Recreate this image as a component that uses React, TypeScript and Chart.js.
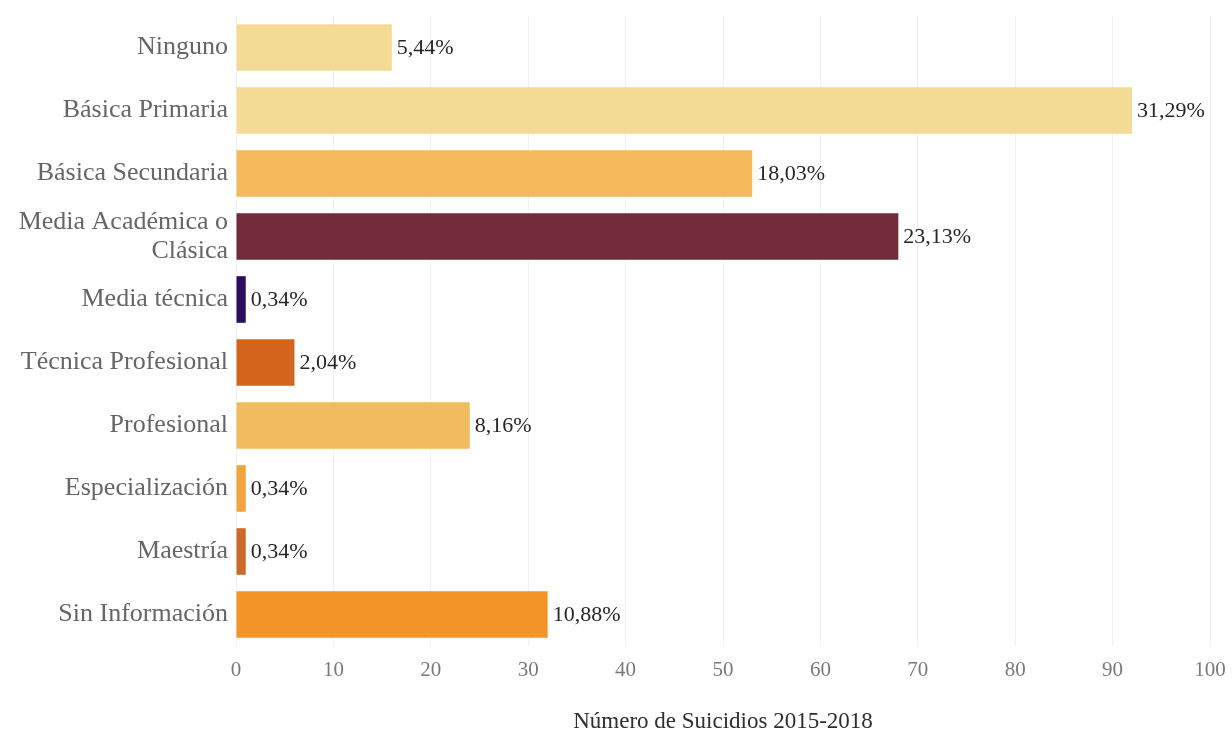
import React, { useEffect, useRef } from "react";
import { Chart, registerables } from "chart.js";

Chart.register(...registerables);

const categories: (string | string[])[] = [
  "Ninguno",
  "Básica Primaria",
  "Básica Secundaria",
  ["Media Académica o", "Clásica"],
  "Media técnica",
  "Técnica Profesional",
  "Profesional",
  "Especialización",
  "Maestría",
  "Sin Información",
];

const suicideCounts: number[] = [16, 92, 53, 68, 1, 6, 24, 1, 1, 32];

const percentages: number[] = [5.44, 31.29, 18.03, 23.13, 0.34, 2.04, 8.16, 0.34, 0.34, 10.88];

const barColors: string[] = [
  "#F3DB96",
  "#F3DB96",
  "#F3B95A",
  "#722B38",
  "#2C0E5C",
  "#D2651B",
  "#F2BB5F",
  "#F2A53E",
  "#CB6A28",
  "#F39428",
];

const axisTitle = "Número de Suicidios 2015-2018";

const SERIF = "'Liberation Serif', 'Times New Roman', Times, serif";

const formatPct = (v: number) => v.toFixed(2).replace(".", ",") + "%";

const valueLabelPlugin = {
  id: "valueLabels",
  afterDatasetsDraw(chart: any) {
    const ctx = chart.ctx;
    const meta = chart.getDatasetMeta(0);
    ctx.save();
    ctx.font = `22px ${SERIF}`;
    ctx.fillStyle = "#262626";
    ctx.textAlign = "left";
    ctx.textBaseline = "middle";
    meta.data.forEach((bar: any, i: number) => {
      ctx.fillText(formatPct(percentages[i]), bar.x + 5, bar.y + 1);
    });
    ctx.restore();
  },
};

export default function App() {
  const canvasRef = useRef<HTMLCanvasElement | null>(null);

  useEffect(() => {
    if (!canvasRef.current) return;
    const chart = new Chart(canvasRef.current, {
      type: "bar",
      data: {
        labels: categories,
        datasets: [
          {
            data: suicideCounts,
            backgroundColor: barColors,
            borderWidth: 0,
            barPercentage: 0.74,
            categoryPercentage: 1,
          },
        ],
      },
      options: {
        indexAxis: "y",
        responsive: false,
        animation: false,
        layout: { padding: { top: 16, right: 22, bottom: 2, left: 0 } },
        plugins: {
          legend: { display: false },
          tooltip: { enabled: false },
        },
        scales: {
          x: {
            min: 0,
            max: 100,
            ticks: {
              stepSize: 10,
              padding: 12,
              color: "#7a7a7a",
              font: { family: SERIF, size: 21 },
            },
            grid: {
              color: "rgba(0,0,0,0.055)",
              drawTicks: false,
            },
            border: { display: false },
            title: {
              display: true,
              text: axisTitle,
              color: "#2e2e2e",
              font: { family: SERIF, size: 23 },
              padding: { top: 25, bottom: 0 },
            },
            afterFit: (scale: any) => {
              scale.height = 90;
              scale.paddingLeft = 0;
              scale.paddingRight = 0;
            },
          },
          y: {
            ticks: {
              padding: 8,
              color: "#666666",
              font: { family: SERIF, size: 26, lineHeight: 1.1 },
            },
            grid: { display: false, drawTicks: false },
            border: { display: false },
            afterFit: (scale: any) => {
              scale.width = 236;
              scale.paddingTop = 0;
              scale.paddingBottom = 0;
            },
          },
        },
      },
      plugins: [valueLabelPlugin],
    });
    return () => chart.destroy();
  }, []);

  return (
    <div style={{ position: "fixed", left: 0, top: 0, width: 1232, height: 738, background: "#ffffff" }}>
      <canvas ref={canvasRef} width={1232} height={738} style={{ display: "block" }} />
    </div>
  );
}
